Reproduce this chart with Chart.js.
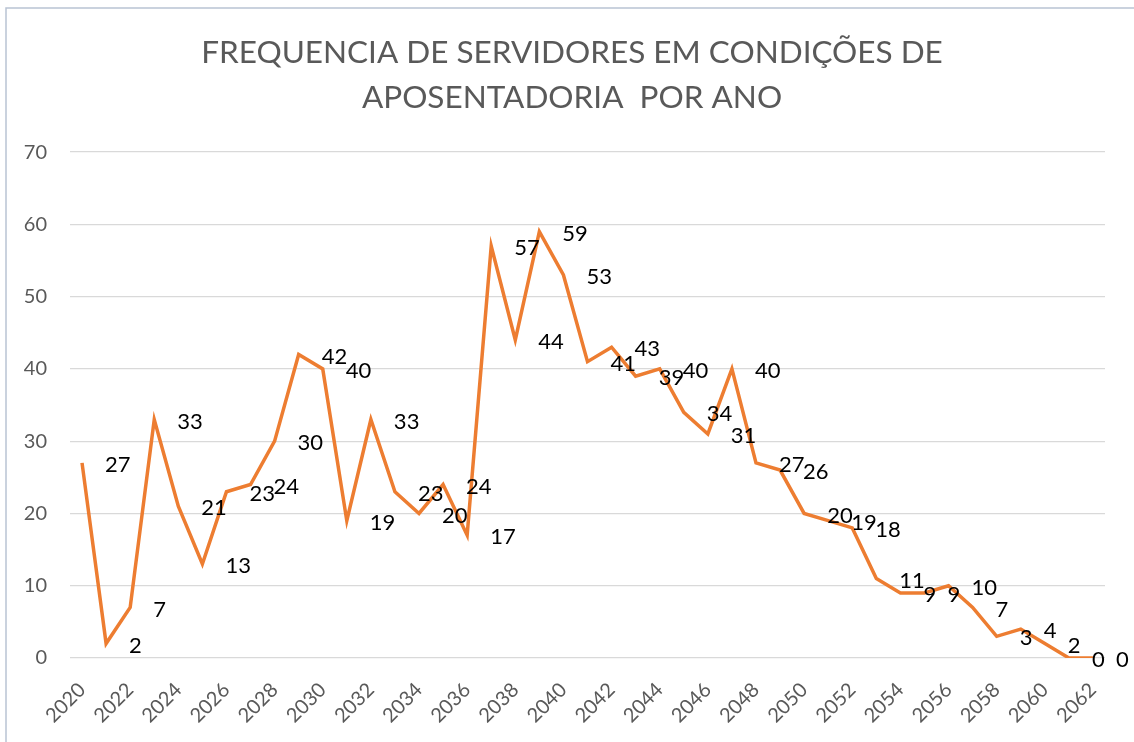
<!DOCTYPE html>
<html>
<head>
<meta charset="utf-8">
<script src="https://cdn.jsdelivr.net/npm/chart.js@4.4.1/dist/chart.umd.min.js"></script>
<style>
  html, body { margin: 0; padding: 0; background: #fff; }
  #wrap { width: 1134px; height: 742px; }
</style>
</head>
<body>
<div id="wrap"><canvas id="chart" width="1134" height="742"></canvas></div>
<script>
// Chart data
const titleLines = ['FREQUENCIA DE SERVIDORES EM CONDIÇÕES DE', 'APOSENTADORIA  POR ANO'];
const years = ['2020', '2021', '2022', '2023', '2024', '2025', '2026', '2027', '2028', '2029',
               '2030', '2031', '2032', '2033', '2034', '2035', '2036', '2037', '2038', '2039',
               '2040', '2041', '2042', '2043', '2044', '2045', '2046', '2047', '2048', '2049',
               '2050', '2051', '2052', '2053', '2054', '2055', '2056', '2057', '2058', '2059',
               '2060', '2061', '2062'];
const servidores = [27, 2, 7, 33, 21, 13, 23, 24, 30, 42,
                    40, 19, 33, 23, 20, 24, 17, 57, 44, 59,
                    53, 41, 43, 39, 40, 34, 31, 40, 27, 26,
                    20, 19, 18, 11, 9, 9, 10, 7, 3, 4,
                    2, 0, 0];
const yTicks = [0, 10, 20, 30, 40, 50, 60, 70];

const fontFamily = 'Lato, "Open Sans", sans-serif';

// outer frame like the spreadsheet chart box
const frameBox = {
    id: 'frameBox',
    beforeDraw(chart) {
        const ctx = chart.ctx;
        ctx.save();
        ctx.strokeStyle = '#b9c3d3';
        ctx.lineWidth = 1.5;
        ctx.strokeRect(6, 8, 1200, 800);
        ctx.restore();
    }
};

// value labels, placed to the right of each point
const valueLabels = {
    id: 'valueLabels',
    afterDatasetsDraw(chart) {
        const ctx = chart.ctx;
        const meta = chart.getDatasetMeta(0);
        ctx.save();
        ctx.font = '22px ' + fontFamily;
        ctx.fillStyle = '#000';
        ctx.textAlign = 'left';
        ctx.textBaseline = 'middle';
        meta.data.forEach((pt, i) => {
            ctx.fillText(String(servidores[i]), pt.x + 23, pt.y + 2);
        });
        ctx.restore();
    }
};

new Chart(document.getElementById('chart'), {
    type: 'line',
    data: {
        labels: years,
        datasets: [{
            data: servidores,
            borderColor: '#ED7D31',
            borderWidth: 3.5,
            pointRadius: 0,
            tension: 0,
            fill: false
        }]
    },
    options: {
        responsive: false,
        animation: false,
        layout: { padding: { left: 10, right: 0, top: 0, bottom: 0 } },
        plugins: {
            legend: { display: false },
            tooltip: { enabled: false },
            title: {
                display: true,
                text: titleLines,
                color: '#595959',
                font: { family: fontFamily, size: 31.5, weight: 'normal', lineHeight: 1.43 },
                padding: { top: 30, bottom: 32 }
            }
        },
        scales: {
            x: {
                offset: true,
                grid: { display: false },
                border: { display: false },
                ticks: {
                    autoSkip: false,
                    maxRotation: 45,
                    minRotation: 45,
                    color: '#595959',
                    font: { family: fontFamily, size: 20 },
                    padding: 12,
                    callback: function (val, idx) {
                        return idx % 2 === 0 ? years[idx] : '';
                    }
                },
                afterFit(scale) { scale.height = 84; }
            },
            y: {
                min: 0,
                max: 70,
                afterBuildTicks(scale) { scale.ticks = yTicks.map(v => ({ value: v })); },
                grid: { color: '#d9d9d9', lineWidth: 1.3, drawTicks: false },
                border: { display: false },
                ticks: {
                    color: '#595959',
                    font: { family: fontFamily, size: 20 },
                    padding: 23
                },
                afterFit(scale) { scale.width = 60; }
            },
            // empty right-hand axis, only reserves the margin
            yRight: {
                position: 'right',
                min: 0,
                max: 70,
                grid: { display: false },
                border: { display: false },
                ticks: { display: false },
                afterFit(scale) { scale.width = 29; }
            }
        }
    },
    plugins: [frameBox, valueLabels]
});
</script>
</body>
</html>
